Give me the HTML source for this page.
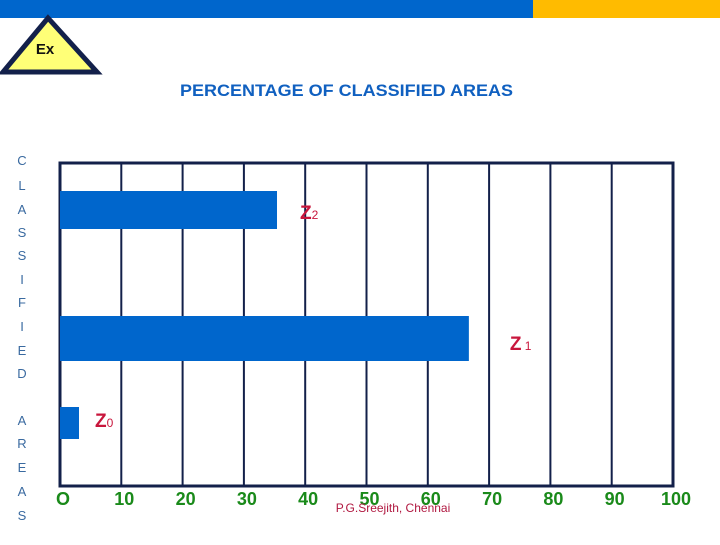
<!DOCTYPE html>
<html><head><meta charset="utf-8"><style>
body{margin:0;width:720px;height:540px;background:#fff;overflow:hidden;font-family:"Liberation Sans",sans-serif}
</style></head><body>
<svg width="720" height="540" viewBox="0 0 720 540">
<rect x="0" y="0" width="533" height="18" fill="#0066cc"/>
<rect x="533" y="0" width="187" height="18" fill="#ffbb00"/>
<g>
<polygon points="48,18 3,72 97,72" fill="#ffff77" stroke="#13204a" stroke-width="5" stroke-linejoin="miter"/>
<text x="45" y="54" font-size="15" font-weight="bold" text-anchor="middle" fill="#111">Ex</text>
</g>
<text x="180" y="96" font-size="17" font-weight="bold" fill="#1060c0" textLength="333" lengthAdjust="spacingAndGlyphs">PERCENTAGE OF CLASSIFIED AREAS</text>
<g id="ylab"></g>
<g id="grid"></g>
<g id="bars"></g>
<g id="ticks"></g>
<text x="393" y="512" font-size="12" fill="#b01840" text-anchor="middle">P.G.Sreejith, Chennai</text>
</svg>
<script>
const categories=["Z2","Z1","Z0"];
const values=[35.4,66.7,3.1];
const tickLabels=["O","10","20","30","40","50","60","70","80","90","100"];
const tickValues=[0,10,20,30,40,50,60,70,80,90,100];
const NS="http://www.w3.org/2000/svg";
const x0=60,x1=673,yTop=163,yBot=486;
function xs(v){return x0+(x1-x0)*v/100;}
const barY={Z2:[191,38],Z1:[316,45],Z0:[407,32]};
function mk(t,a,p){const e=document.createElementNS(NS,t);for(const k in a)e.setAttribute(k,a[k]);p.appendChild(e);return e;}
const ylab=document.getElementById('ylab');
const letters="CLASSIFIED".split("");const ly=[160,185,209,232,255,279,302,326,350,373];
letters.forEach((c,i)=>{const t=mk('text',{x:22,y:ly[i]+5,'font-size':13,fill:'#3a6aa0','text-anchor':'middle'},ylab);t.textContent=c;});
const l2="AREAS".split("");const ly2=[420,443,467,491,515];
l2.forEach((c,i)=>{const t=mk('text',{x:22,y:ly2[i]+5,'font-size':13,fill:'#3a6aa0','text-anchor':'middle'},ylab);t.textContent=c;});
const grid=document.getElementById('grid');
tickValues.forEach((v,i)=>{if(i==0||i==tickValues.length-1)return;
const l=mk('line',{x1:xs(v),x2:xs(v),y1:yTop,y2:yBot,stroke:'#13204a','stroke-width':2},grid);

});
const fr=mk('rect',{x:x0,y:yTop,width:x1-x0,height:yBot-yTop,fill:'none',stroke:'#13204a','stroke-width':3},grid);


const bars=document.getElementById('bars');
const labPos={Z2:[300,219],Z1:[510,350],Z0:[95,427]};
categories.forEach((c,i)=>{const [y,h]=barY[c];
const r=mk('rect',{x:x0,y:y,width:xs(values[i])-x0,height:h,fill:'#0066cc'},bars);


const lx=xs(values[i])+(c=="Z0"?16:(c=="Z2"?23:41));
const t=mk('text',{x:lx,y:labPos[c][1],'font-size':19,'font-weight':'bold',fill:'#c8163c'},bars);


const a=document.createElementNS(NS,'tspan');a.textContent='Z';t.appendChild(a);
const b=document.createElementNS(NS,'tspan');b.setAttribute('font-size','12');b.setAttribute('font-weight','normal');b.textContent=(c=="Z1"?" ":"")+c[1];t.appendChild(b);});
const ticks=document.getElementById('ticks');
tickValues.forEach((v,i)=>{const t=mk('text',{x:xs(v)+3,y:505,'font-size':18,'font-weight':'bold',fill:'#1a8a1a','text-anchor':'middle'},ticks);


t.textContent=tickLabels[i];});
</script>
</body></html>
